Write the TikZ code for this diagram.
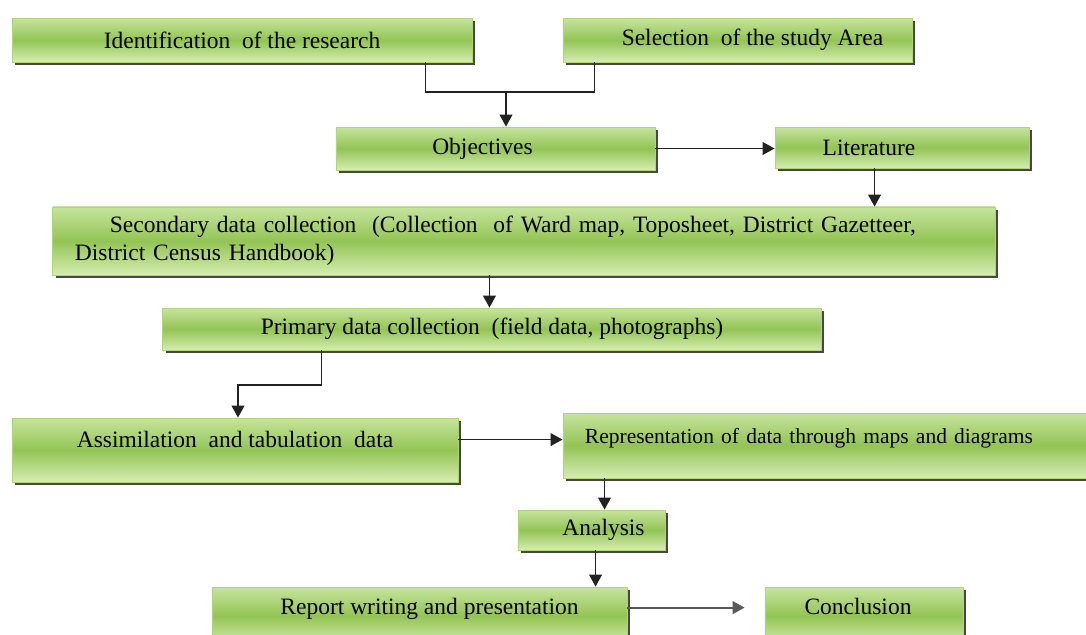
\documentclass[tikz,border=0pt]{standalone}
\usepackage{fontspec}
\setmainfont{Liberation Serif}
\newfontfamily\flowfont{Liberation Serif}
\usetikzlibrary{positioning,arrows.meta,shadows,calc}
\definecolor{gtop}{HTML}{C6E49D}
\definecolor{gmid}{HTML}{93C455}
\definecolor{gbot}{HTML}{D6EDB2}
\definecolor{gedge}{HTML}{ADD778}
\definecolor{ink}{HTML}{222222}

\begin{document}
\begin{tikzpicture}[
  x=0.025cm,y=-0.025cm,
  font=\flowfont\fontsize{16.7}{20}\selectfont,
  stage/.style={draw=gedge,line width=0.6pt,top color=gtop,bottom color=gbot,middle color=gmid,
    inner xsep=0pt,inner ysep=0pt,
    drop shadow={shadow xshift=0.07cm,shadow yshift=-0.07cm,fill=black!80,opacity=0.9}},
  line/.style={draw=ink,line width=1.1pt},
  arr/.style={line,-{Triangle[length=3mm,width=3.2mm]}}]
  \useasboundingbox (0,0) rectangle (1086,634);
  % upper stages
  \node[stage,minimum width=11.5cm,minimum height=1.1cm] (ident) at (242,40) {Identification\ \ of the research};
  \node[stage,minimum width=8.725cm,minimum height=1.1cm] (sel) at (737.5,40) {\hspace*{0.75cm}Selection\ \ of the study Area};
  \node[stage,minimum width=7.975cm,minimum height=1.075cm] (obj) at (495.5,148.5) {Objectives\hspace*{0.65cm}};
  \node[stage,minimum width=6.35cm,minimum height=1.025cm] (lit) at (902,147.5) {Literature\hspace*{1.65cm}};
  \node[stage,minimum width=23.55cm,minimum height=1.7cm,text width=22.45cm,align=left] (sec) at (524,241)
    {\hspace*{0.875cm}Secondary data collection\ \ (Collection\ \ of Ward map, Toposheet, District Gazetteer,\\District Census Handbook)};
  \node[stage,minimum width=16.45cm,minimum height=1.05cm] (prim) at (492,329) {Primary data collection\ \ (field data, photographs)};
  % lower stages
  \node[stage,minimum width=11.15cm,text height=0.725cm,text depth=0.875cm] (assim) at (235,450) {Assimilation\ \ and tabulation\ \ data};
  \node[stage,minimum width=13.425cm,text width=12.325cm,align=left,text height=0.75cm,text depth=0.875cm,
    font=\flowfont\fontsize{15.3}{18}\selectfont] (repr) at (831.5,445.5) {Representation of data through maps and diagrams};
  \node[stage,minimum width=3.675cm,minimum height=1.0cm] (ana) at (591.5,530) {\hspace*{0.6cm}Analysis};
  \node[stage,minimum width=10.375cm,text height=0.675cm,text depth=0.775cm] (rep) at (419.5,616) {\hspace*{0.5cm}Report writing and presentation};
  \node[stage,minimum width=4.95cm,text height=0.675cm,text depth=0.775cm] (conc) at (864,616) {Conclusion\hspace*{0.3cm}};
  % connectors
  \coordinate (m1) at (506,92);
  \draw[line] ($(ident.south east)+(-47,0)$) |- (m1) -| ($(sel.south west)+(32,0)$);
  \draw[arr] (m1) -- (m1 |- obj.north);
  \draw[arr] (obj.east) -- (obj.east -| lit.west);
  \draw[arr] ($(lit.south west)+(100,0)$) coordinate (l1) -- (l1 |- sec.north);
  \draw[arr] ($(sec.south west)+(437,0)$) coordinate (s1) -- (s1 |- prim.north);
  \coordinate (k1) at (238,385);
  \draw[arr] ($(prim.south west)+(159,0)$) |- (k1) -- (k1 |- assim.north);
  \draw[arr] ($(assim.north east)+(0,22)$) coordinate (a1) -- (a1 -| repr.west);
  \draw[arr] ($(repr.south west)+(42,0)$) coordinate (r1) -- (r1 |- ana.north);
  \draw[arr] ($(ana.south west)+(78,0)$) coordinate (n1) -- (n1 |- rep.north);
  \draw[arr,draw=black!65,line width=1.5pt,shorten >=0.5cm] ($(rep.north east)+(0,21)$) coordinate (w1) -- (w1 -| conc.west);
\end{tikzpicture}
\end{document}
